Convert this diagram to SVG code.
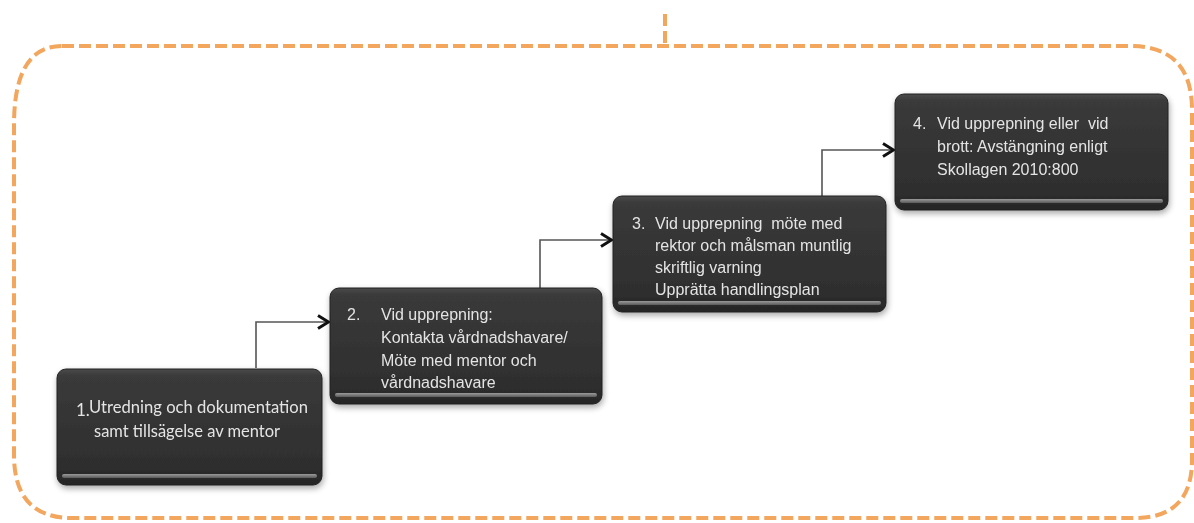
<svg xmlns="http://www.w3.org/2000/svg" width="1194" height="523" viewBox="0 0 1194 523">
<defs>
<linearGradient id="bg" x1="0" y1="0" x2="0" y2="1">
<stop offset="0" stop-color="#4a4a4a"/>
<stop offset="0.06" stop-color="#3a3a3a"/>
<stop offset="0.85" stop-color="#2e2e2e"/>
<stop offset="1" stop-color="#262626"/>
</linearGradient>
<linearGradient id="bev" x1="0" y1="0" x2="0" y2="1">
<stop offset="0" stop-color="#9a9a9a"/>
<stop offset="1" stop-color="#5a5a5a"/>
</linearGradient>
<filter id="sh" x="-10%" y="-10%" width="120%" height="130%">
<feGaussianBlur in="SourceAlpha" stdDeviation="3"/>
<feOffset dx="1" dy="3" result="b"/>
<feComponentTransfer><feFuncA type="linear" slope="0.35"/></feComponentTransfer>
<feMerge><feMergeNode/><feMergeNode in="SourceGraphic"/></feMerge>
</filter>
<marker id="arr" viewBox="0 0 14 16" refX="13" refY="8" markerWidth="14" markerHeight="16" markerUnits="userSpaceOnUse" orient="auto">
<path d="M2,1.5 L12.5,8 L2,14.5" fill="none" stroke="#111" stroke-width="3"/>
</marker>
</defs>
<style>
.frame{fill:none;stroke:#F2A65E;stroke-width:4;stroke-dasharray:12 5}
.box{fill:url(#bg);stroke:#222;stroke-width:1}
.bev{fill:url(#bev)}
.t{font-family:"Liberation Sans",Arial,sans-serif;font-size:16px;fill:#e4e4e4;white-space:pre}
.c{font-family:Lato,"Liberation Sans",sans-serif;font-size:17px;fill:#e4e4e4}
.conn{fill:none;stroke:#555;stroke-width:1.6}
</style>
<rect width="1194" height="523" fill="#ffffff"/>
<g id="frame">
<path class="frame" d="M62,46 L1130,46 Q1192,46 1192,110 L1192,460 Q1192,518 1135,518 L72,518 Q14,518 14,455 L14,125 Q14,46 62,46"/>
<path class="frame" d="M665,14 L665,46" stroke-dasharray="14 6"/>
</g>
<g id="connectors">
<path class="conn" d="M256,368 L256,322 L329,322" marker-end="url(#arr)"/>
<path class="conn" d="M540,288 L540,240 L612,240" marker-end="url(#arr)"/>
<path class="conn" d="M822,196 L822,150 L894,150" marker-end="url(#arr)"/>
</g>
<g id="node1" filter="url(#sh)">
<rect class="box" x="57" y="369" width="265" height="116" rx="9"/>
<rect class="bev" x="62" y="474" width="255" height="4" rx="2"/>
<text class="c" x="76" y="416" font-size="14">1.</text>
<text class="c" x="89" y="413" textLength="219" lengthAdjust="spacingAndGlyphs">Utredning och dokumentation</text>
<text class="c" x="94" y="437" textLength="186" lengthAdjust="spacingAndGlyphs">samt tillsägelse av mentor</text>
</g>
<g id="node2" filter="url(#sh)">
<rect class="box" x="330" y="288" width="272" height="116" rx="9"/>
<rect class="bev" x="335" y="393" width="262" height="4" rx="2"/>
<text class="t" x="347" y="320">2.</text>
<text class="t" x="381" y="320">Vid upprepning:</text>
<text class="t" x="381" y="343">Kontakta vårdnadshavare/</text>
<text class="t" x="381" y="366">Möte med mentor och</text>
<text class="t" x="381" y="388">vårdnadshavare</text>
</g>
<g id="node3" filter="url(#sh)">
<rect class="box" x="613" y="196" width="273" height="116" rx="9"/>
<rect class="bev" x="618" y="301" width="263" height="4" rx="2"/>
<text class="t" x="632" y="229">3.</text>
<text class="t" x="655" y="229" xml:space="preserve">Vid upprepning  möte med</text>
<text class="t" x="655" y="251">rektor och målsman muntlig</text>
<text class="t" x="655" y="273">skriftlig varning</text>
<text class="t" x="655" y="295">Upprätta handlingsplan</text>
</g>
<g id="node4" filter="url(#sh)">
<rect class="box" x="895" y="94" width="273" height="116" rx="9"/>
<rect class="bev" x="900" y="199" width="263" height="4" rx="2"/>
<text class="t" x="913" y="129">4.</text>
<text class="t" x="937" y="129" xml:space="preserve">Vid upprepning eller  vid</text>
<text class="t" x="937" y="152">brott: Avstängning enligt</text>
<text class="t" x="937" y="175">Skollagen 2010:800</text>
</g>
</svg>
